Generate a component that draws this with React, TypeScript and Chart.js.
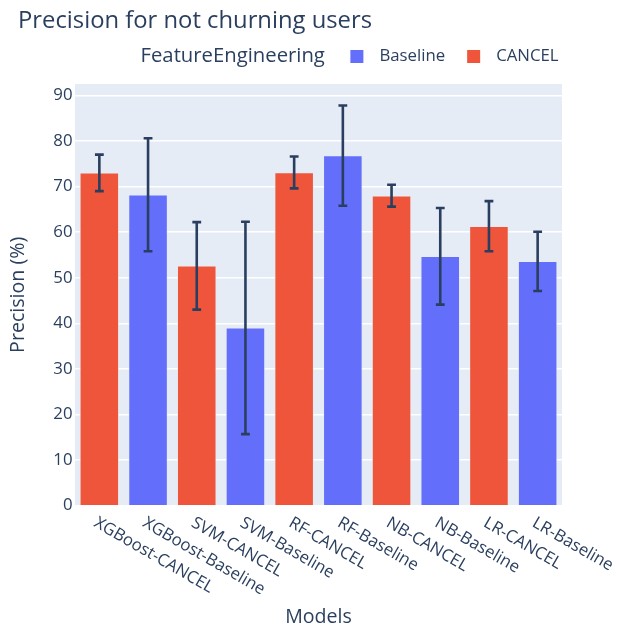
import React, { useEffect, useRef } from "react";
import { Chart, registerables } from "chart.js";

Chart.register(...registerables);

// Model / feature-set combinations shown along the x axis
const models = [
  "XGBoost-CANCEL",
  "XGBoost-Baseline",
  "SVM-CANCEL",
  "SVM-Baseline",
  "RF-CANCEL",
  "RF-Baseline",
  "NB-CANCEL",
  "NB-Baseline",
  "LR-CANCEL",
  "LR-Baseline",
];

// Mean precision (%) per group; null where the group does not apply
const baselinePrecision = [null, 68.2, null, 39.0, null, 76.8, null, 54.7, null, 53.6];
const cancelPrecision = [73.0, null, 52.6, null, 73.1, null, 68.0, null, 61.3, null];

// Standard deviation (symmetric error bars)
const baselineError = [null, 12.4, null, 23.3, null, 11.0, null, 10.6, null, 6.5];
const cancelError = [4.0, null, 9.6, null, 3.5, null, 2.4, null, 5.5, null];

const yTicks = [0, 10, 20, 30, 40, 50, 60, 70, 80, 90];

const TITLE = "Precision for not churning users";
const LEGEND_TITLE = "FeatureEngineering";
const X_TITLE = "Models";
const Y_TITLE = "Precision (%)";

const FONT = '"Open Sans", verdana, arial, sans-serif';
const INK = "#2a3f5f";
const BLUE = "#636efa";
const RED = "#ef553b";
const PLOT_BG = "#e5ecf6";

const W = 620;
const H = 626;

const plotBackground = {
  id: "plotBackground",
  beforeDraw(chart: any) {
    const { ctx, chartArea } = chart;
    ctx.save();
    ctx.fillStyle = PLOT_BG;
    ctx.fillRect(chartArea.left, chartArea.top, chartArea.right - chartArea.left, chartArea.bottom - chartArea.top);
    ctx.restore();
  },
};

const errorBars = {
  id: "errorBars",
  afterDatasetsDraw(chart: any) {
    const { ctx } = chart;
    const yScale = chart.scales.y;
    ctx.save();
    ctx.strokeStyle = INK;
    ctx.lineWidth = 2.6;
    chart.data.datasets.forEach((ds: any, di: number) => {
      const meta = chart.getDatasetMeta(di);
      ds.data.forEach((v: number | null, i: number) => {
        const err = ds.errors[i];
        if (v == null || err == null) return;
        const x = meta.data[i].x;
        const yTop = yScale.getPixelForValue(v + err);
        const yBot = yScale.getPixelForValue(v - err);
        const cap = 4.4;
        ctx.beginPath();
        ctx.moveTo(x, yTop);
        ctx.lineTo(x, yBot);
        ctx.moveTo(x - cap, yTop);
        ctx.lineTo(x + cap, yTop);
        ctx.moveTo(x - cap, yBot);
        ctx.lineTo(x + cap, yBot);
        ctx.stroke();
      });
    });
    ctx.restore();
  },
};

const annotations = {
  id: "annotations",
  afterDraw(chart: any) {
    const { ctx } = chart;
    const xScale = chart.scales.x;
    ctx.save();
    ctx.fillStyle = INK;

    // Title
    ctx.font = `23.8px ${FONT}`;
    ctx.textAlign = "left";
    ctx.textBaseline = "middle";
    ctx.fillText(TITLE, 18, 21);

    // Legend: title followed by one entry per dataset
    const legendY = 56.5;
    ctx.font = `20.3px ${FONT}`;
    ctx.fillText(LEGEND_TITLE, 140.5, legendY);
    let x = 140.5 + ctx.measureText(LEGEND_TITLE).width + 25.5;
    ctx.font = `16.8px ${FONT}`;
    chart.data.datasets.forEach((ds: any) => {
      ctx.fillStyle = ds.backgroundColor;
      ctx.fillRect(x, legendY - 6.5, 13, 13);
      ctx.fillStyle = INK;
      ctx.fillText(ds.label, x + 29, legendY);
      x += 29 + ctx.measureText(ds.label).width + 22;
    });

    // Angled category labels
    ctx.font = `16.8px ${FONT}`;
    ctx.textBaseline = "middle";
    const base = xScale.top;
    chart.data.labels.forEach((lbl: string, i: number) => {
      const px = xScale.getPixelForValue(i);
      ctx.save();
      ctx.translate(px - 4, base + 16);
      ctx.rotate(Math.PI / 6);
      ctx.fillText(lbl, 0, 0);
      ctx.restore();
    });
    ctx.restore();
  },
};

export default function App() {
  const canvasRef = useRef<HTMLCanvasElement | null>(null);

  useEffect(() => {
    document.body.style.margin = "0";
    const canvas = canvasRef.current;
    if (!canvas) return;
    const chart = new Chart(canvas, {
      type: "bar",
      data: {
        labels: models,
        datasets: [
          {
            label: "Baseline",
            data: baselinePrecision,
            errors: baselineError,
            backgroundColor: BLUE,
            borderColor: "rgba(229,236,246,0.9)",
            borderWidth: 0.7,
          } as any,
          {
            label: "CANCEL",
            data: cancelPrecision,
            errors: cancelError,
            backgroundColor: RED,
            borderColor: "rgba(229,236,246,0.9)",
            borderWidth: 0.7,
          } as any,
        ],
      },
      options: {
        animation: false,
        responsive: true,
        maintainAspectRatio: false,
        layout: { padding: { top: 84, right: 58, left: 0, bottom: 0 } },
        datasets: {
          bar: { grouped: false, categoryPercentage: 1, barPercentage: 0.8 },
        },
        plugins: {
          legend: { display: false },
          title: { display: false },
          tooltip: { enabled: false },
        },
        scales: {
          x: {
            type: "category",
            grid: { display: false },
            border: { display: false },
            ticks: { display: false },
            title: {
              display: true,
              text: X_TITLE,
              color: INK,
              font: { family: FONT, size: 19.6 },
              padding: { top: 0, bottom: -3 },
            },
            afterFit(scale: any) {
              scale.height = 120.3;
            },
          },
          y: {
            min: 0,
            max: 92.5,
            afterBuildTicks(scale: any) {
              scale.ticks = yTicks.map((v) => ({ value: v }));
            },
            grid: { color: "#ffffff", lineWidth: 1.4, drawTicks: false },
            border: { display: false },
            ticks: {
              color: INK,
              padding: 2.5,
              font: { family: FONT, size: 16.8 },
            },
            title: {
              display: true,
              text: Y_TITLE,
              color: INK,
              font: { family: FONT, size: 19.6 },
              padding: { top: 6.5, bottom: 0 },
            },
            afterFit(scale: any) {
              scale.width = 75;
            },
          },
        },
      },
      plugins: [plotBackground, errorBars, annotations],
    });
    return () => chart.destroy();
  }, []);

  return (
    <div style={{ width: W, height: H, position: "relative" }}>
      <canvas ref={canvasRef} />
    </div>
  );
}
